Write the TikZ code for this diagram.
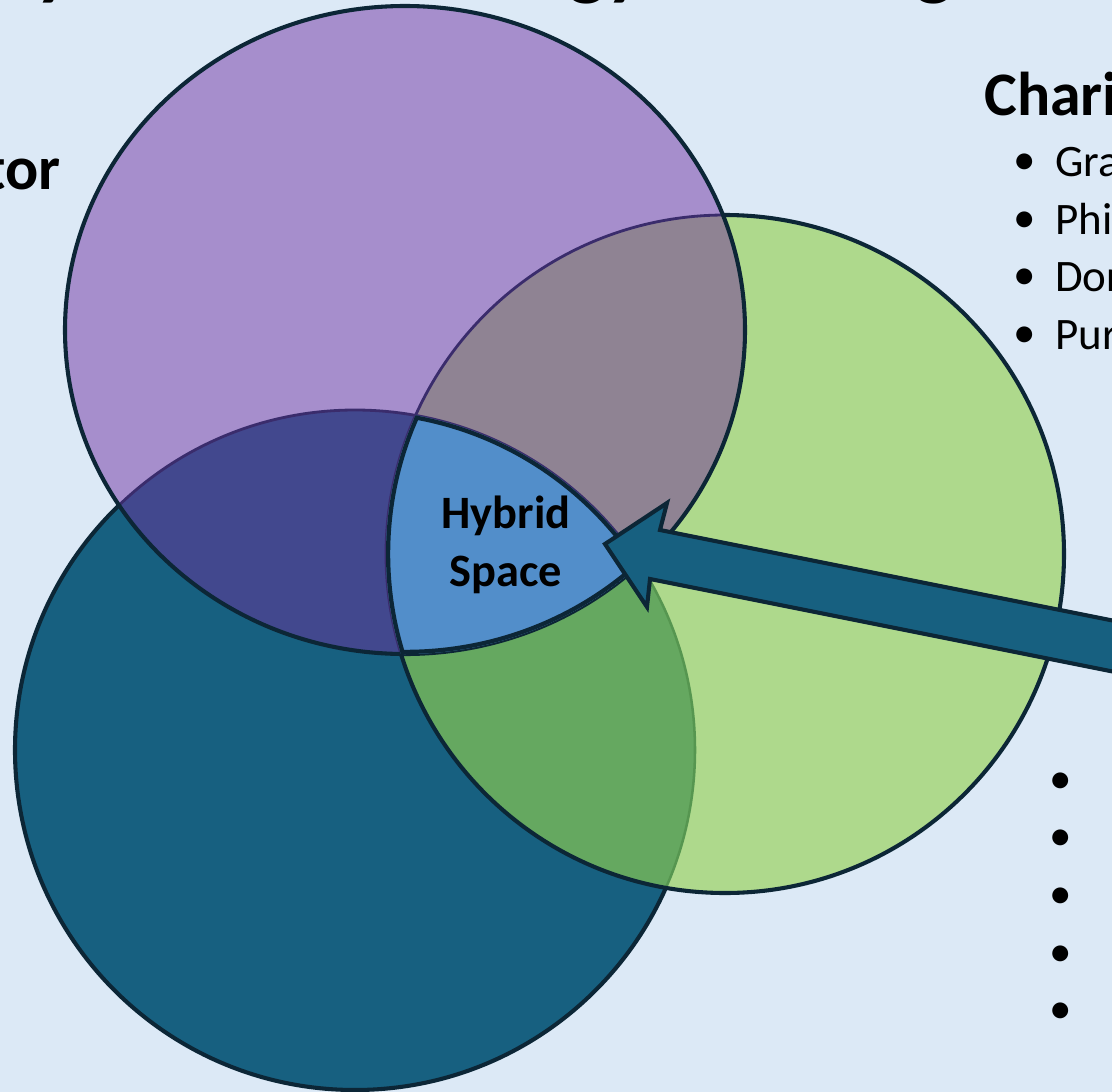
\documentclass[tikz,border=0pt]{standalone}
\usepackage{fontspec}
\setmainfont{Carlito}
\definecolor{slidebg}{RGB}{220, 233, 246}
\definecolor{sectpurple}{RGB}{166, 142, 204}
\definecolor{sectgreen}{RGB}{174, 217, 140}
\definecolor{sectteal}{RGB}{23, 96, 128}
\definecolor{mixgrey}{RGB}{143, 131, 147}
\definecolor{mixviolet}{RGB}{66, 72, 142}
\definecolor{mixgreen}{RGB}{101, 168, 96}
\definecolor{hybridblue}{RGB}{82, 142, 202}
\definecolor{edgenavy}{RGB}{12, 38, 54}
\definecolor{edgeviolet}{RGB}{58, 44, 108}
\definecolor{edgegreen}{RGB}{86, 150, 80}
\usetikzlibrary{positioning}

% the three sector shapes
\def\tealpath{(355,750) circle [radius=340]}
\def\greenpath{(725,554) circle [radius=339]}
\def\purplepath{(405,330) ellipse [x radius=340, y radius=324]}

\begin{document}
\begin{tikzpicture}[x=0.025cm, y=-0.025cm]
  \useasboundingbox (0,0) rectangle (1112,1092);
  \clip (0,0) rectangle (1112,1092);
  \fill[slidebg] (0,0) rectangle (1112,1092);

  % Title (cut off above)
  \node[font=\fontsize{57}{60}\selectfont\bfseries, anchor=base west, inner sep=0pt] (ttl1) at (35,-10) {y};
  \node[font=\fontsize{57}{60}\selectfont\bfseries, anchor=base west, inner sep=0pt] (ttl2) at (568,-10) {gy};
  \node[font=\fontsize{57}{60}\selectfont\bfseries, anchor=base west, inner sep=0pt] (ttl3) at (915,-10) {g};

  % Teal sector (bottom layer)
  \fill[sectteal] \tealpath;
  \draw[edgenavy, line width=2.9pt] \tealpath;

  % Green sector
  \fill[sectgreen] \greenpath;
  \begin{scope}
    \clip \tealpath;
    \fill[mixgreen] \greenpath;
  \end{scope}
  \begin{scope}
    \clip \greenpath;
    \draw[edgegreen, line width=1.8pt] \tealpath;
  \end{scope}
  \draw[edgenavy, line width=2.9pt] \greenpath;

  % Purple sector (top layer)
  \fill[sectpurple] \purplepath;
  \begin{scope}
    \clip \purplepath;
    \begin{scope}
      \clip \greenpath;
      \fill[mixgrey] \greenpath;
    \end{scope}
    \begin{scope}
      \clip \tealpath;
      \fill[mixviolet] \tealpath;
    \end{scope}
    \draw[edgeviolet, line width=2pt] \greenpath;
    \draw[edgeviolet, line width=2pt] \tealpath;
  \end{scope}
  \draw[edgenavy, line width=2.9pt] \purplepath;

  % Hybrid space (all three)
  \begin{scope}
    \clip \tealpath;
    \clip \greenpath;
    \clip \purplepath;
    \fill[hybridblue] \purplepath;
    \draw[edgenavy, line width=6pt] \tealpath;
    \draw[edgenavy, line width=6pt] \greenpath;
    \draw[edgenavy, line width=6pt] \purplepath;
  \end{scope}
  \node[font=\fontsize{33}{41}\selectfont\bfseries, align=center] (hybrid) at (506,545) {Hybrid\\Space};

  % Block arrow into the hybrid space
  \coordinate (tip) at (605,544);
  \draw[edgenavy, fill=sectteal, line width=2.9pt, line join=miter]
    (tip) -- (667,503) -- (660,530) -- (1160,630) -- (1160,681) -- (650,579) -- (647,607) -- cycle;

  % Side headings (cut off at the edges)
  \node[font=\fontsize{44}{50}\selectfont\bfseries, anchor=base east, inner sep=0pt] (sect) at (61,189) {tor};
  \node[font=\fontsize{44}{50}\selectfont\bfseries, anchor=base west, inner sep=0pt] (char) at (984,115) {Chari};

  % Bullets, right column
  \node[font=\fontsize{32}{38}\selectfont, anchor=base west, inner sep=0pt] (c1) at (1055,176) {Gra};
  \node[font=\fontsize{32}{38}\selectfont, anchor=base west, inner sep=0pt] (c2) at (1055,234) {Phi};
  \node[font=\fontsize{32}{38}\selectfont, anchor=base west, inner sep=0pt] (c3) at (1055,291) {Dor};
  \node[font=\fontsize{32}{38}\selectfont, anchor=base west, inner sep=0pt] (c4) at (1055,349) {Pur};
  \node[font=\fontsize{32}{38}\selectfont, anchor=base, inner sep=0pt] (d1) at (1025,174) {\textbullet};
  \node[font=\fontsize{32}{38}\selectfont, anchor=base, inner sep=0pt] (d2) at (1025,232) {\textbullet};
  \node[font=\fontsize{32}{38}\selectfont, anchor=base, inner sep=0pt] (d3) at (1025,289) {\textbullet};
  \node[font=\fontsize{32}{38}\selectfont, anchor=base, inner sep=0pt] (d4) at (1025,347) {\textbullet};

  % Bullets, lower right (text off the edge)
  \node[font=\fontsize{32}{38}\selectfont, anchor=base, inner sep=0pt] (e1) at (1061,793) {\textbullet};
  \node[font=\fontsize{32}{38}\selectfont, anchor=base, inner sep=0pt] (e2) at (1061,850) {\textbullet};
  \node[font=\fontsize{32}{38}\selectfont, anchor=base, inner sep=0pt] (e3) at (1061,908) {\textbullet};
  \node[font=\fontsize{32}{38}\selectfont, anchor=base, inner sep=0pt] (e4) at (1061,966) {\textbullet};
  \node[font=\fontsize{32}{38}\selectfont, anchor=base, inner sep=0pt] (e5) at (1061,1023) {\textbullet};
\end{tikzpicture}
\end{document}
